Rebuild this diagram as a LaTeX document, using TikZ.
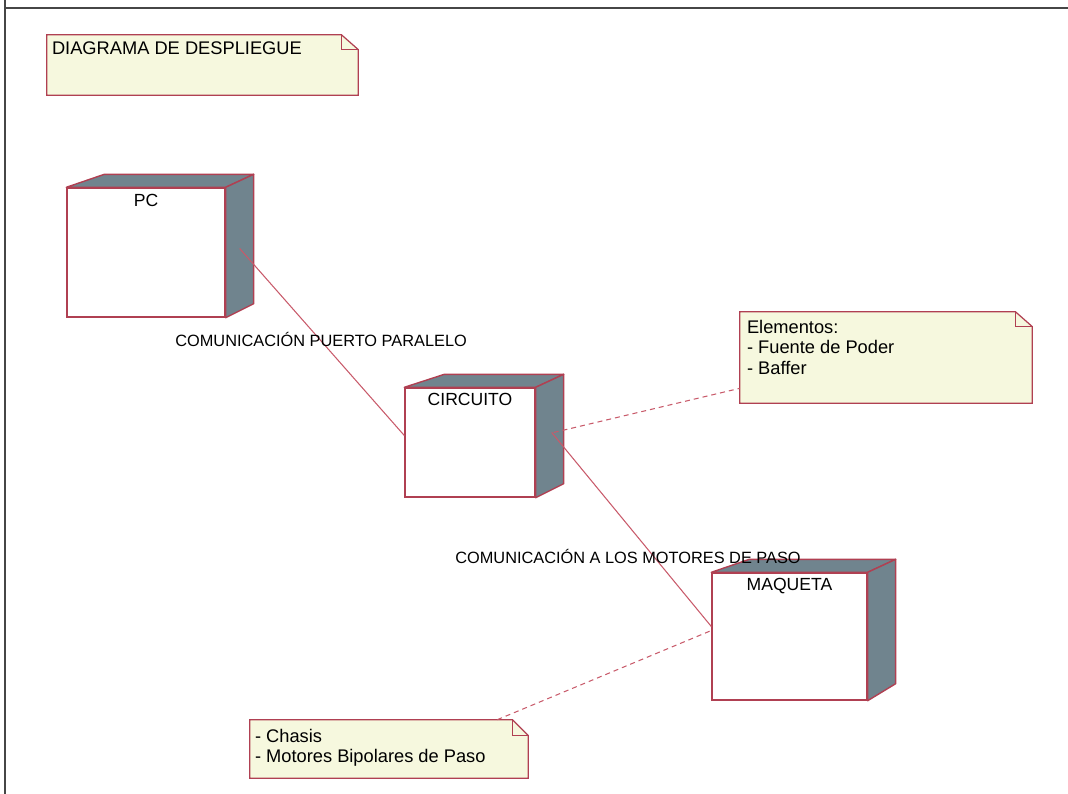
\documentclass[tikz,border=0pt]{standalone}
\usepackage{fontspec}
\setmainfont{Liberation Sans}
\usetikzlibrary{positioning,calc}
\definecolor{nodeline}{RGB}{176,64,82}
\definecolor{nodeside}{RGB}{112,132,142}
\definecolor{notefill}{RGB}{246,248,222}
\definecolor{linkcol}{RGB}{200,90,106}
\definecolor{framecol}{RGB}{70,70,70}
\begin{document}
\begin{tikzpicture}[x=0.02cm,y=-0.02cm,
    front/.style={draw=nodeline,fill=white,line width=0.8pt,inner sep=0pt},
    side/.style={draw=nodeline,fill=nodeside,line width=0.8pt,line join=round},
    notebox/.style={inner sep=0pt},
    noteline/.style={draw=nodeline,fill=notefill,line width=0.7pt},
    notetext/.style={font=\fontsize{10.4}{11.6}\selectfont,align=left,inner sep=0pt,anchor=north west},
    nodetext/.style={font=\fontsize{10}{12}\selectfont,inner sep=0pt},
    linktext/.style={font=\fontsize{9.3}{11}\selectfont,inner sep=0pt,anchor=base west},
    link/.style={draw=linkcol,line width=0.6pt},
    dashlink/.style={link,dash pattern=on 0.1cm off 0.08cm}]
            \useasboundingbox (0,0) rectangle (1068,794);
            % frame
            \draw[framecol,line width=0.8pt] (5,0) -- (5,794);
            \draw[framecol,line width=0.8pt] (5,8) -- (1068,8);
            % title note
            \node[notebox,minimum width=6.22cm,minimum height=1.2cm] (n1) at (202.5,65) {};
            \draw[noteline] (n1.north west) -- ($(n1.north east)+(-17,0)$) -- ($(n1.north east)+(0,15)$) -- (n1.south east) -- (n1.south west) -- cycle;
            \draw[nodeline,line width=0.7pt] ($(n1.north east)+(-17,0)$) -- ++(0,15) -- ++(17,0);
            \node[notetext] (n1-t) at ($(n1.north west)+(5,7)$) {DIAGRAMA DE DESPLIEGUE};
            % nodes
            \node[front,minimum width=3.16cm,minimum height=2.58cm] (pc) at (146,252.5) {};
            \draw[side] (pc.north west) -- ++(38,-13) -- ($(pc.north east)+(28,-13)$) -- (pc.north east) -- cycle;
            \draw[side] (pc.north east) -- ++(28,-13) -- ($(pc.south east)+(28,-14)$) -- (pc.south east) -- cycle;
            \node[nodetext,below=0.13cm of pc.north] (pc-t) {PC};
            \node[front,minimum width=2.6cm,minimum height=2.18cm] (circ) at (470,442.5) {};
            \draw[side] (circ.north west) -- ++(40,-13) -- ($(circ.north east)+(28,-13)$) -- (circ.north east) -- cycle;
            \draw[side] (circ.north east) -- ++(28,-13) -- ($(circ.south east)+(28,-14)$) -- (circ.south east) -- cycle;
            \node[nodetext,below=0.12cm of circ.north] (circ-t) {CIRCUITO};
            \node[front,minimum width=3.1cm,minimum height=2.54cm] (maq) at (789.5,636.5) {};
            \draw[side] (maq.north west) -- ++(38,-13) -- ($(maq.north east)+(28,-13)$) -- (maq.north east) -- cycle;
            \draw[side] (maq.north east) -- ++(28,-13) -- ($(maq.south east)+(28,-17)$) -- (maq.south east) -- cycle;
            \node[nodetext,below=0.12cm of maq.north] (maq-t) {MAQUETA};
            % notes
            \node[notebox,minimum width=5.84cm,minimum height=1.82cm] (n2) at (886,357.5) {};
            \draw[noteline] (n2.north west) -- ($(n2.north east)+(-17,0)$) -- ($(n2.north east)+(0,15)$) -- (n2.south east) -- (n2.south west) -- cycle;
            \draw[nodeline,line width=0.7pt] ($(n2.north east)+(-17,0)$) -- ++(0,15) -- ++(17,0);
            \node[notetext] (n2-t) at ($(n2.north west)+(7,8)$) {Elementos:\\- Fuente de Poder\\- Baffer};
            \node[notebox,minimum width=5.56cm,minimum height=1.16cm] (n3) at (389,749) {};
            \draw[noteline] (n3.north west) -- ($(n3.north east)+(-16,0)$) -- ($(n3.north east)+(0,16)$) -- (n3.south east) -- (n3.south west) -- cycle;
            \draw[nodeline,line width=0.7pt] ($(n3.north east)+(-16,0)$) -- ++(0,16) -- ++(16,0);
            \node[notetext] (n3-t) at ($(n3.north west)+(5,9)$) {- Chasis\\- Motores Bipolares de Paso};
            % connectors
            \draw[link] ($(pc.east)+(14,-4)$) -- ($(circ.west)+(0,-7)$);
            \draw[link] ($(circ.east)+(16,-10)$) -- ($(maq.west)+(0,-10)$);
            \draw[dashlink] ($(circ.east)+(18,-10)$) -- ($(n2.south west)+(0,-15)$);
            \draw[dashlink] ($(n3.north east)+(-31,0)$) -- ($(maq.west)+(0,-6)$);
            \node[linktext] (l1) at (175,346) {COMUNICACIÓN PUERTO PARALELO};
            \node[linktext] (l2) at (455,563) {COMUNICACIÓN A LOS MOTORES DE PASO};
         \end{tikzpicture}
\end{document}
